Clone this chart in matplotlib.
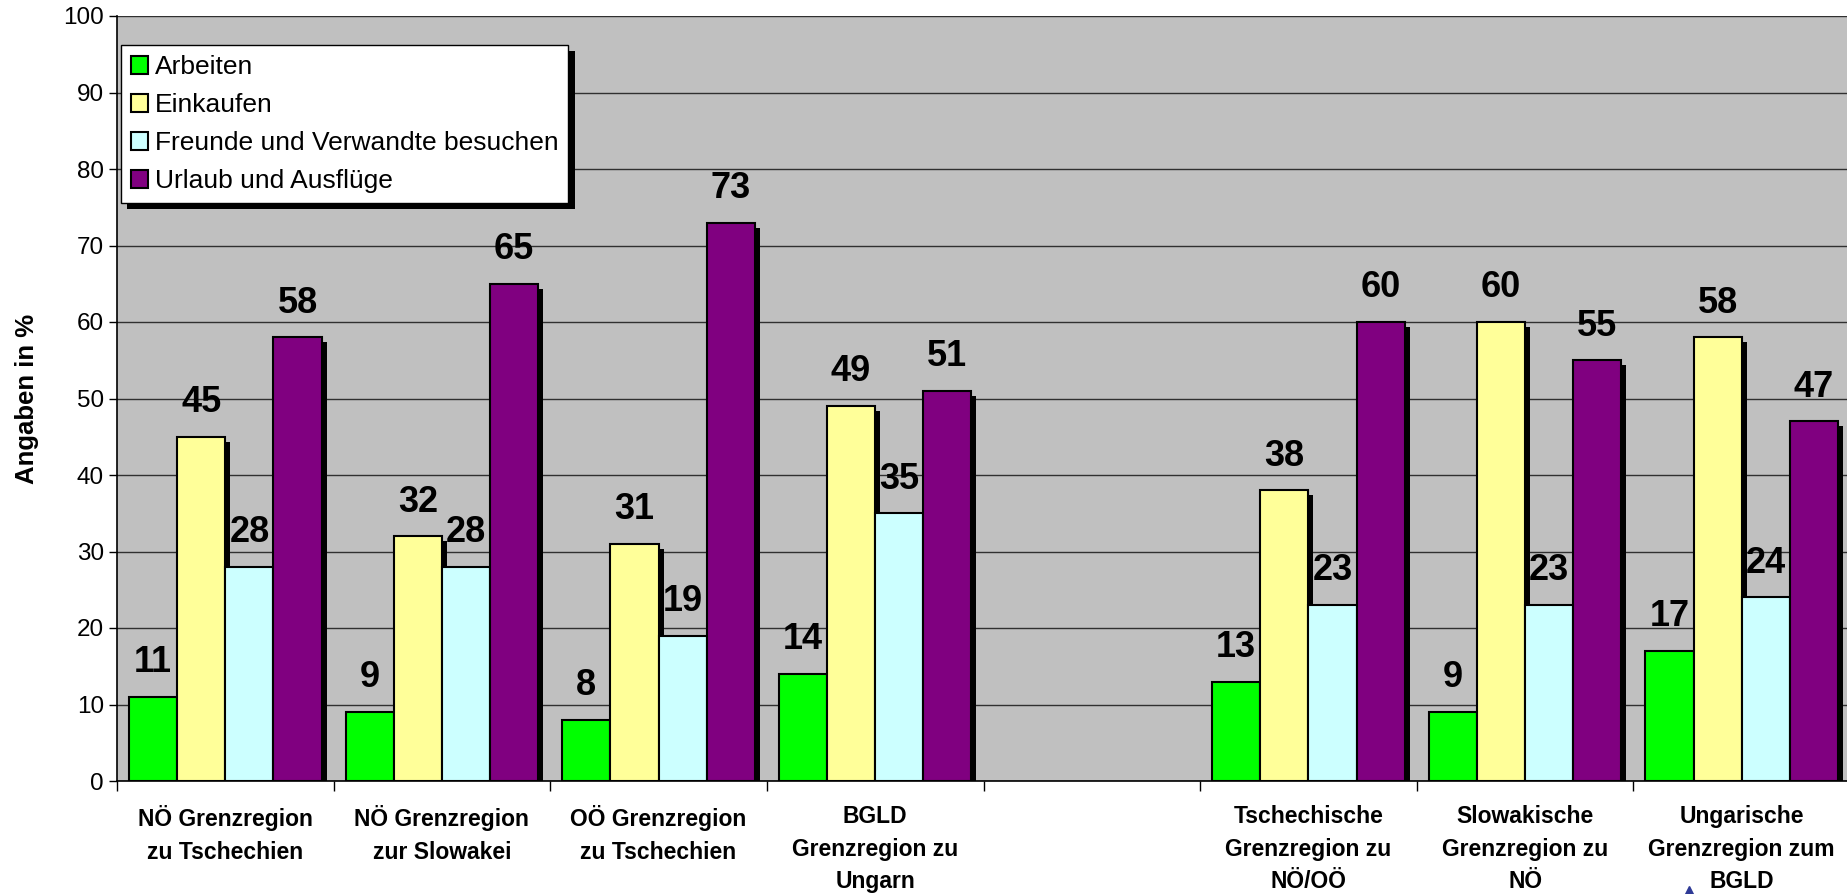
import numpy as np
import matplotlib.pyplot as plt
from matplotlib import patheffects
from matplotlib.lines import Line2D

plt.rcParams['font.family'] = ['Liberation Sans', 'DejaVu Sans']

# ─── Data ─────────────────────────────────────────────────────────────────────
regions = [
    "NÖ Grenzregion\nzu Tschechien",
    "NÖ Grenzregion\nzur Slowakei",
    "OÖ Grenzregion\nzu Tschechien",
    "BGLD\nGrenzregion zu\nUngarn",
    "",
    "Tschechische\nGrenzregion zu\nNÖ/OÖ",
    "Slowakische\nGrenzregion zu\nNÖ",
    "Ungarische\nGrenzregion zum\nBGLD",
]
series_names = ["Arbeiten", "Einkaufen", "Freunde und Verwandte besuchen",
                "Urlaub und Ausflüge"]
arbeiten = [11, 9, 8, 14, np.nan, 13, 9, 17]
einkaufen = [45, 32, 31, 49, np.nan, 38, 60, 58]
freunde = [28, 28, 19, 35, np.nan, 23, 23, 24]
urlaub = [58, 65, 73, 51, np.nan, 60, 55, 47]

colors = ["#00FF00", "#FFFF99", "#CCFFFF", "#800080"]

# ─── Figure ───────────────────────────────────────────────────────────────────
W, H = 1847, 894
fig = plt.figure(figsize=(W / 100, H / 100), dpi=100)
ax = fig.add_axes([117 / W, 1 - 781 / H, (1850 - 117) / W, (781 - 16) / H])
ax.set_facecolor("#C0C0C0")

x = np.arange(len(regions))
width = 1 / 4.5
shadow = [patheffects.withSimplePatchShadow(offset=(3.6, -3.6),
                                            shadow_rgbFace="black", alpha=1.0)]

for i, (name, vals, col) in enumerate(zip(series_names,
                                          [arbeiten, einkaufen, freunde, urlaub],
                                          colors)):
    pos = x + (i - 1.5) * width
    bars = ax.bar(pos, vals, width, color=col, edgecolor="black",
                  linewidth=1.5, label=name, zorder=2)
    for b in bars:
        b.set_path_effects(shadow)
    for p, v in zip(pos, vals):
        if np.isnan(v):
            continue
        ax.annotate(f"{v:.0f}", (p, v), xytext=(0, 12), textcoords="offset points",
                    ha="center", va="bottom", fontsize=26, fontweight="bold",
                    zorder=3)

ax.set_xlim(-0.5, len(regions) - 0.5)
ax.set_ylim(0, 100)
ax.set_yticks(np.arange(0, 101, 10))
ax.yaxis.grid(True, color="#303030", linewidth=1)
ax.set_axisbelow(True)
ax.tick_params(axis="y", labelsize=17.5, length=6, width=1, direction="out")

ax.set_xticks(x)
ax.set_xticklabels(regions, fontsize=16.5, fontweight="bold", linespacing=1.55)
ax.set_xticks(np.arange(-0.5, len(regions)), minor=True)
ax.tick_params(axis="x", which="major", length=0, pad=17)
ax.tick_params(axis="x", which="minor", length=7, width=1)

for side in ["top", "right"]:
    ax.spines[side].set_visible(False)
for side in ["left", "bottom"]:
    ax.spines[side].set_linewidth(1.2)

ax.set_ylabel("Angaben in %", fontsize=18.5, fontweight="bold", labelpad=17)

leg = ax.legend(loc="upper left", bbox_to_anchor=(121 / W, 1 - 45 / H),
                bbox_transform=fig.transFigure, borderaxespad=0,
                fontsize=19, fancybox=False, framealpha=1, edgecolor="black",
                handlelength=0.65, handleheight=0.65, handletextpad=0.25,
                labelspacing=0.53, borderpad=0.38)
leg.get_frame().set_linewidth(1)
leg.get_frame().set_path_effects(
    [patheffects.withSimplePatchShadow(offset=(4.5, -4.5),
                                       shadow_rgbFace="black", alpha=1.0)])
for h in leg.legend_handles:
    h.set_path_effects([])
    h.set_linewidth(1.5)

fig.add_artist(Line2D([1689 / W], [1 - 896 / H], marker="^", markersize=15,
                      color="#2E3A96", transform=fig.transFigure))

fig.savefig("out.png", dpi=100)
